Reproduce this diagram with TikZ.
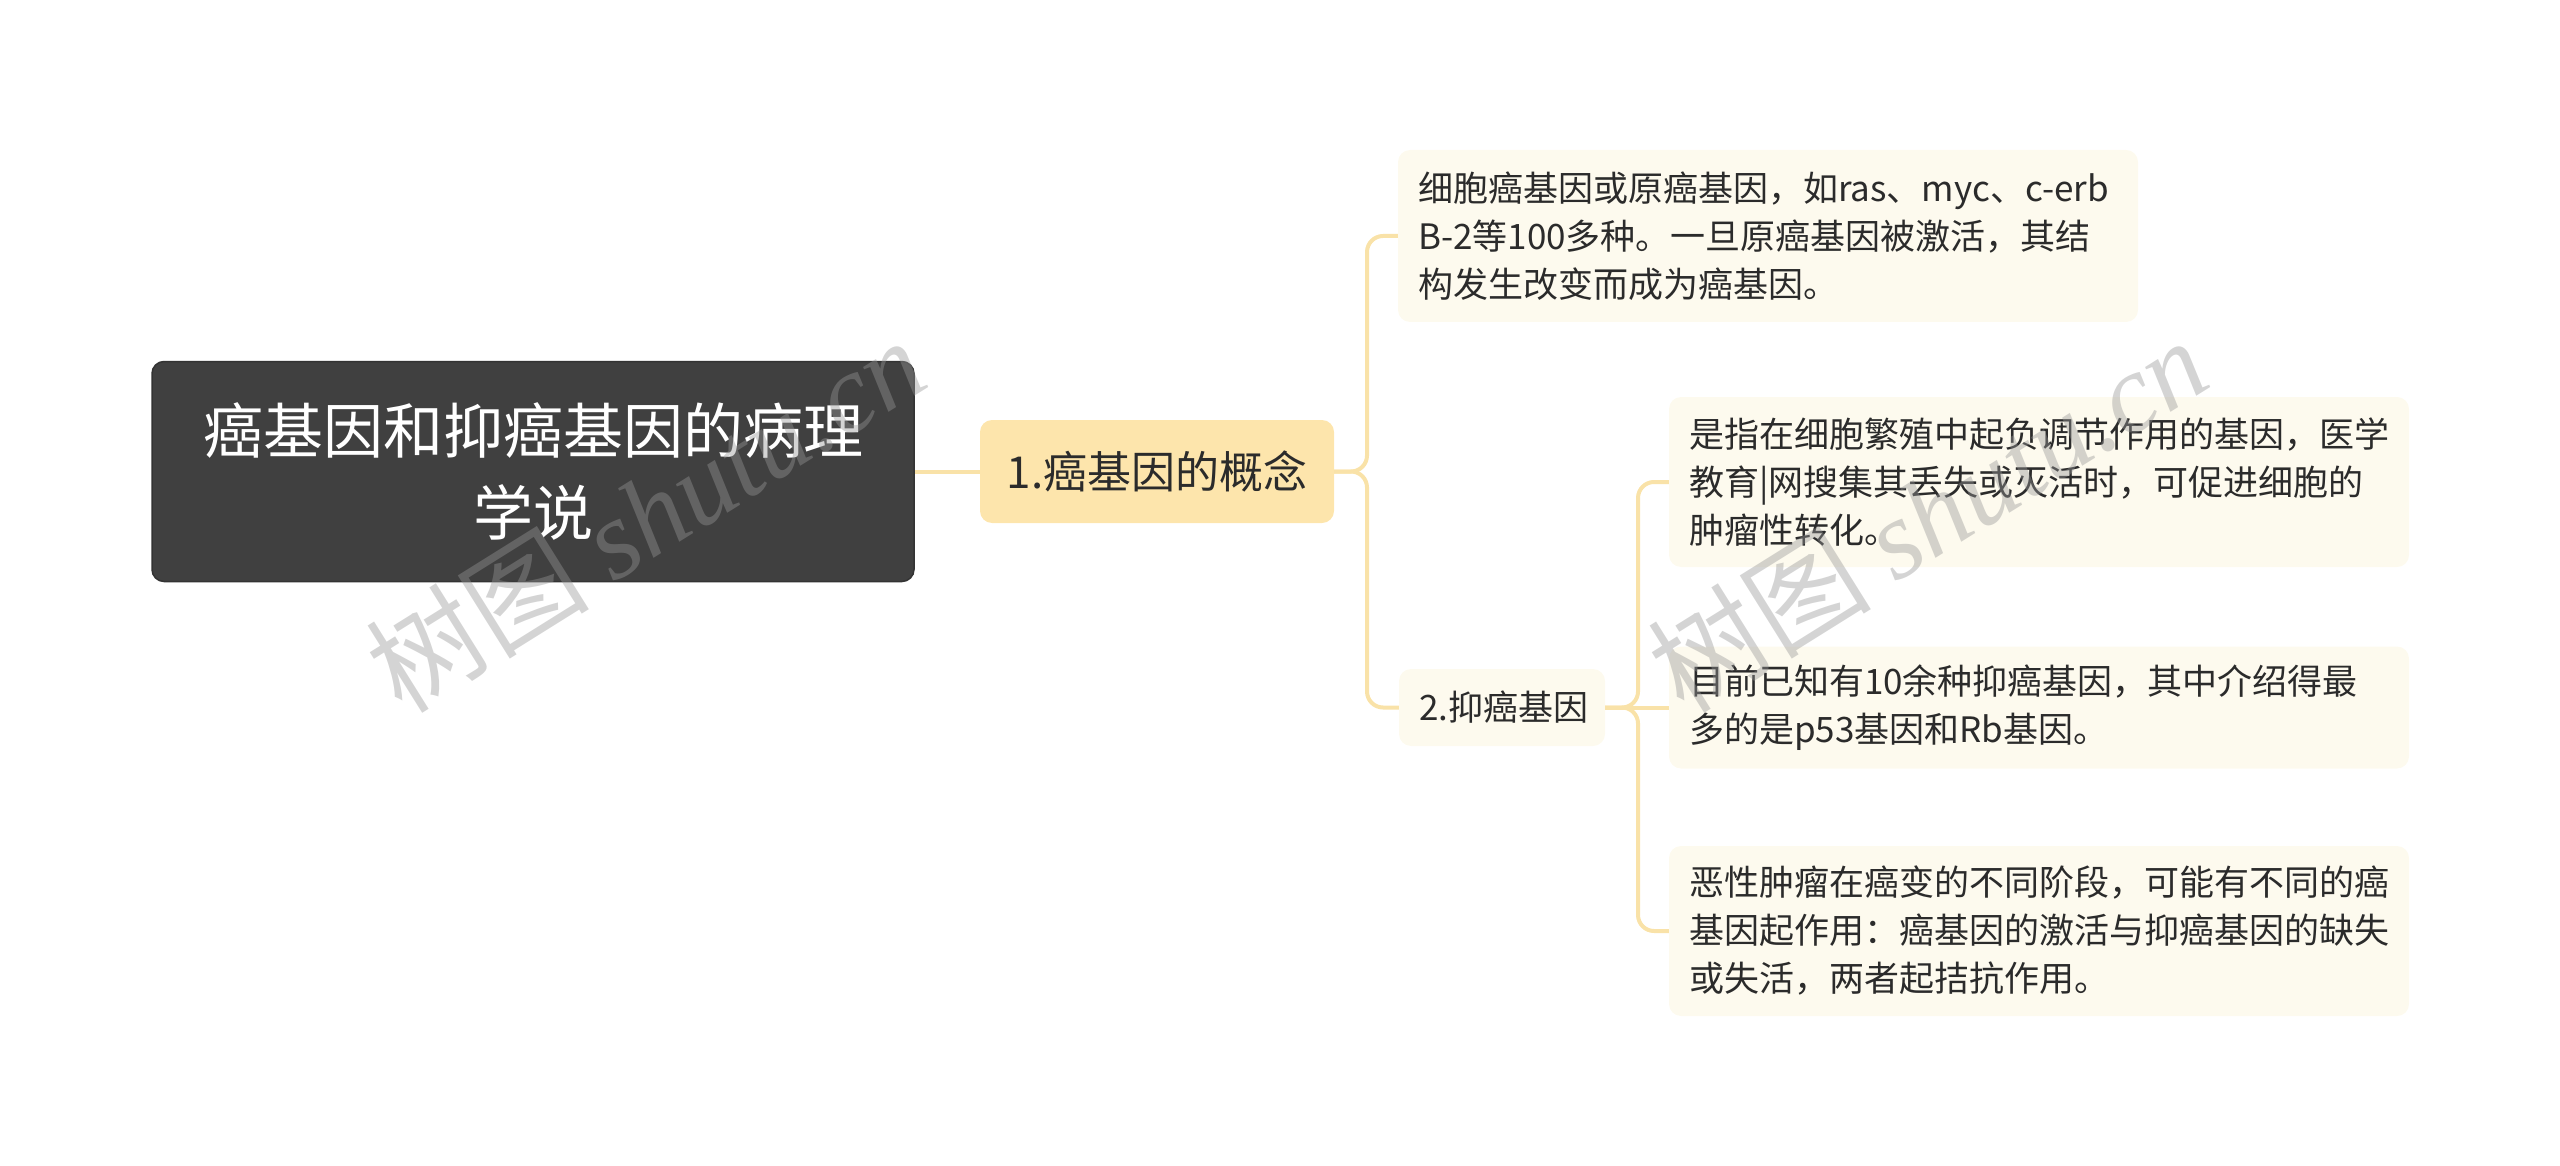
\documentclass[tikz,border=0pt]{standalone}
\usepackage{fontspec}
\setmainfont{Noto Sans CJK SC}
\newfontfamily\wmlatin{Liberation Serif}

\definecolor{rootgray}{HTML}{404040}
\definecolor{rootedge}{HTML}{333333}
\definecolor{topicfill}{HTML}{FDE5AC}
\definecolor{leaffill}{HTML}{FDFAEE}
\definecolor{linkyellow}{HTML}{F9E2A8}
\definecolor{textdark}{HTML}{2B2B2B}
\definecolor{wmgray}{HTML}{979797}

\tikzset{
  rootbox/.style={rectangle, rounded corners=12, fill=rootgray, draw=rootedge, line width=1.5,
    text=white, font=\fontsize{60}{82}\selectfont, align=center, text width=720,
    minimum height=220, inner xsep=21, inner ysep=0},
  topicbox/.style={rectangle, rounded corners=12, fill=topicfill, text=textdark,
    font=\fontsize{44}{56}\selectfont, minimum width=354, minimum height=103, inner sep=0},
  leafbox/.style={rectangle, rounded corners=12, fill=leaffill, text=textdark,
    font=\fontsize{35}{48}\selectfont, align=left, text width=700, inner xsep=20, inner ysep=0},
  link/.style={draw=linkyellow, line width=4, rounded corners=16},
  wmark/.style={text=wmgray, opacity=0.41, rotate=32, font=\fontsize{112}{112}\selectfont}
}

\begin{document}
\begin{tikzpicture}[x=1pt, y=1pt]

  \useasboundingbox (0, 0) rectangle (2560, -1166);

  \node[rootbox] (root) at (533, -471.5) {癌基因和抑癌基因的病理\\学说};
  \node[topicbox] (t1) at (1157, -471.5) {1.癌基因的概念};

  \node[leafbox, minimum height=172] (t1a) at (1768, -236)
    {细胞癌基因或原癌基因，如ras、myc、c-erb\\B-2等100多种。一旦原癌基因被激活，其结\\构发生改变而成为癌基因。};
  \node[leafbox, text width=166, minimum height=77] (t2) at (1502, -707.5) {2.抑癌基因};

  \node[leafbox, minimum height=170] (t2a) at (2039, -482)
    {是指在细胞繁殖中起负调节作用的基因，医学\\教育|网搜集其丢失或灭活时，可促进细胞的\\肿瘤性转化。};
  \node[leafbox, minimum height=122] (t2b) at (2039, -707.5)
    {目前已知有10余种抑癌基因，其中介绍得最\\多的是p53基因和Rb基因。};
  \node[leafbox, minimum height=170] (t2c) at (2039, -931)
    {恶性肿瘤在癌变的不同阶段，可能有不同的癌\\基因起作用：癌基因的激活与抑癌基因的缺失\\或失活，两者起拮抗作用。};

  \coordinate (j1) at (1367, -471.5);
  \coordinate (j2) at (1638, -707.5);

  \draw[link] (root.east) -- (t1.west);
  \draw[link] (t1.east) -- (j1) |- (t1a.west);
  \draw[link] (t1.east) -- (j1) |- (t2.west);
  \draw[link] (t2.east) -- (j2) |- (t2a.west);
  \draw[link] (t2.east) -- (j2) -- (t2b.west);
  \draw[link] (t2.east) -- (j2) |- (t2c.west);

  % watermarks
  \node[wmark] (wm1) at (645, -514) {树图 {\wmlatin\itshape shutu.cn}};
  \node[wmark] (wm2) at (1927, -514) {树图 {\wmlatin\itshape shutu.cn}};

\end{tikzpicture}
\end{document}
